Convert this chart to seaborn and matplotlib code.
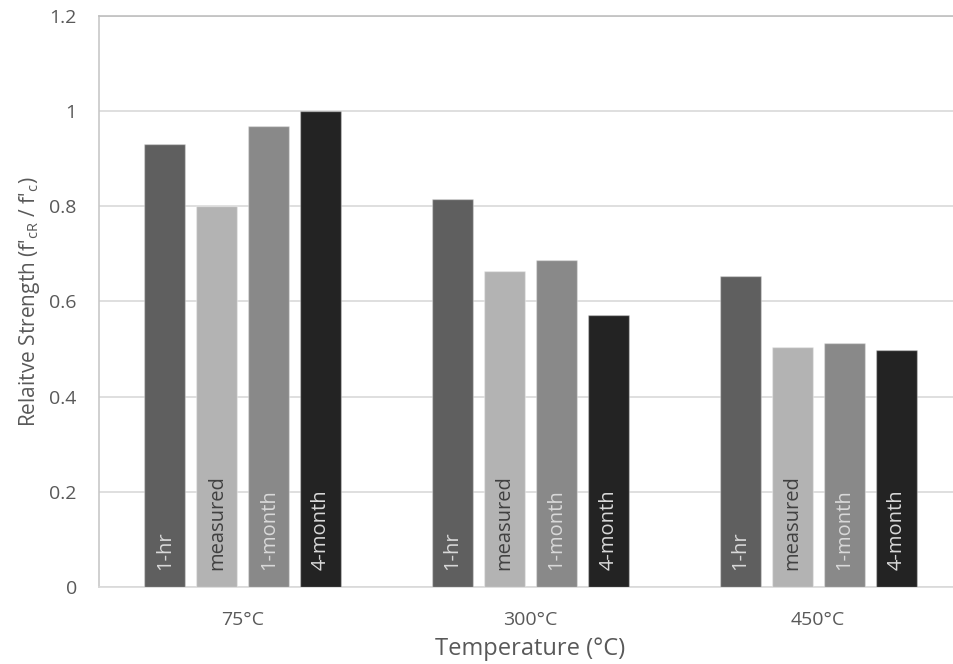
import numpy as np
import pandas as pd
import matplotlib
matplotlib.use('Agg')
import matplotlib.pyplot as plt
import seaborn as sns

temps = ['75°C', '300°C', '450°C']
series = ['1-hr', 'measured', '1-month', '4-month']
v_1hr = [0.932, 0.816, 0.654]
v_measured = [0.801, 0.664, 0.505]
v_1month = [0.968, 0.688, 0.513]
v_4month = [1.0, 0.571, 0.499]

colors = ['#5f5f5f', '#b3b3b3', '#898989', '#232323']
label_colors = ['#d9d9d9', '#404040', '#d9d9d9', '#d9d9d9']

df = pd.DataFrame({
    'temp': temps * 4,
    'series': np.repeat(series, 3),
    'value': v_1hr + v_measured + v_1month + v_4month,
})

sns.set_style('white')
plt.rcParams['font.family'] = ['Open Sans', 'DejaVu Sans']
plt.rcParams['mathtext.fontset'] = 'custom'
plt.rcParams['mathtext.rm'] = 'Open Sans'
plt.rcParams['mathtext.it'] = 'Open Sans'

fig = plt.figure(figsize=(9.54, 6.64), dpi=100)
ax = fig.add_axes([99 / 954, 1 - 587 / 664, 863 / 954, 571 / 664])

sns.barplot(data=df, x='temp', y='value', hue='series', order=temps,
            hue_order=series, palette=colors, width=0.723, gap=0.21,
            saturation=1, edgecolor=(1, 1, 1, 0.35), linewidth=1,
            legend=False, ax=ax, zorder=3)

# labels inside bars
for cont, lc, name in zip(ax.containers, label_colors, series):
    for bar in cont:
        ax.annotate(name, (bar.get_x() + bar.get_width() / 2, 0),
                    xytext=(0, 12), textcoords='offset points',
                    rotation=90, ha='center', va='bottom',
                    color=lc, fontsize=14.5, zorder=4)

ax.set_ylim(0, 1.2)
ax.set_yticks(np.arange(0, 1.21, 0.2))
ax.set_yticklabels(['0', '0.2', '0.4', '0.6', '0.8', '1', '1.2'])
ax.yaxis.grid(True, color='#d9d9d9', linewidth=1.2, zorder=0)
ax.set_axisbelow(True)

ax.spines['right'].set_visible(False)
ax.spines['left'].set_color('#c8c8c8')
ax.spines['top'].set_color('#bfbfbf')
ax.spines['bottom'].set_color('#d9d9d9')
for s in ['left', 'top', 'bottom']:
    ax.spines[s].set_linewidth(1.2)

ax.tick_params(axis='both', length=0, labelsize=14, colors='#595959')
ax.tick_params(axis='y', pad=16)
ax.tick_params(axis='x', pad=17)

ax.set_xlabel('Temperature (°C)', fontsize=17, color='#595959', labelpad=6)
ax.set_ylabel("Relaitve Strength (f'$_{\\mathrm{cR}}$ / f'$_{\\mathrm{c}}$)",
              fontsize=15, color='#595959', labelpad=5)

fig.savefig('out.png', dpi=100)
